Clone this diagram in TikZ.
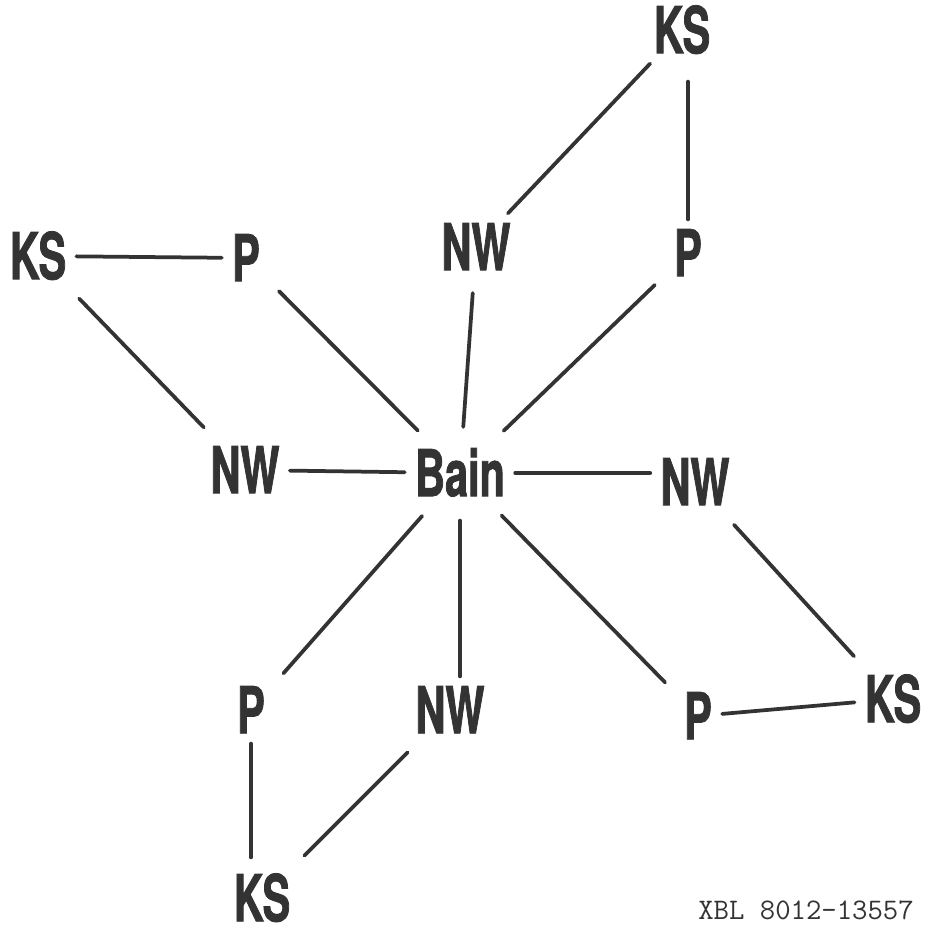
\documentclass[tikz,border=0pt]{standalone}
\usepackage{fontspec}
\newfontfamily\lblfont[FakeStretch=0.64, BoldFeatures={FakeBold=1.2}]{TeX Gyre Heros}
\definecolor{ink}{gray}{0.2}

\begin{document}
\begin{tikzpicture}[x=0.02cm, y=-0.02cm,
  lbl/.style={inner sep=0.2cm, text=ink, font=\lblfont\bfseries\fontsize{36.8}{40}\selectfont, text height=0.93cm, text depth=0pt},
  link/.style={draw=ink, line width=0.075cm, line cap=round},
  spoke/.style={link, shorten <=0.25cm, shorten >=0.25cm}]
\useasboundingbox (0,0) rectangle (926,935);

% upper left
\node[lbl] (ksL) at (38,256) {KS};
\node[lbl] (pTL) at (246,258) {P};
% upper right
\node[lbl] (nwT) at (476,247) {NW};
\node[lbl] (pTR) at (688,253) {P};
\node[lbl] (ksT) at (682,30) {KS};
% middle row
\node[lbl] (nwL) at (245,470) {NW};
\node[lbl] (bain) at (460,473) {Bain};
\node[lbl] (nwR) at (695,482) {NW};
% lower row
\node[lbl] (pBL) at (251,710) {P};
\node[lbl] (nwB) at (450,710) {NW};
\node[lbl] (pBR) at (698,716) {P};
\node[lbl] (ksR) at (893,699) {KS};
\node[lbl] (ksB) at (262,898) {KS};

\node[font=\ttfamily\fontsize{17}{20}\selectfont, text=ink] (xbl) at (806,910) {XBL 8012-13557};

\draw[link] (ksL) -- (pTL);
\draw[spoke] (ksL) -- (nwL);
\draw[spoke] (pTL) -- (bain);
\draw[spoke] (nwT) -- (bain);
\draw[spoke] (pTR) -- (bain);
\draw[link] (nwT) -- (ksT);
\draw[link, shorten >=0.36cm] (pTR.north) -- (pTR.north |- ksT.south);

\draw[link] (nwL) -- (bain);
\draw[link] (bain) -- (bain -| nwR.west);
\draw[spoke] (nwR) -- (ksR);
\draw[link] (pBR) -- (ksR);

\draw[spoke] (bain) -- (pBR);
\draw[link, shorten <=0.28cm] (bain.south) -- (bain.south |- nwB.north);
\draw[spoke] (bain) -- (pBL);
\draw[link, shorten >=0.14cm] (pBL.south) -- (pBL.south |- ksB.north);
\draw[spoke] (nwB) -- (ksB);

\end{tikzpicture}
\end{document}
